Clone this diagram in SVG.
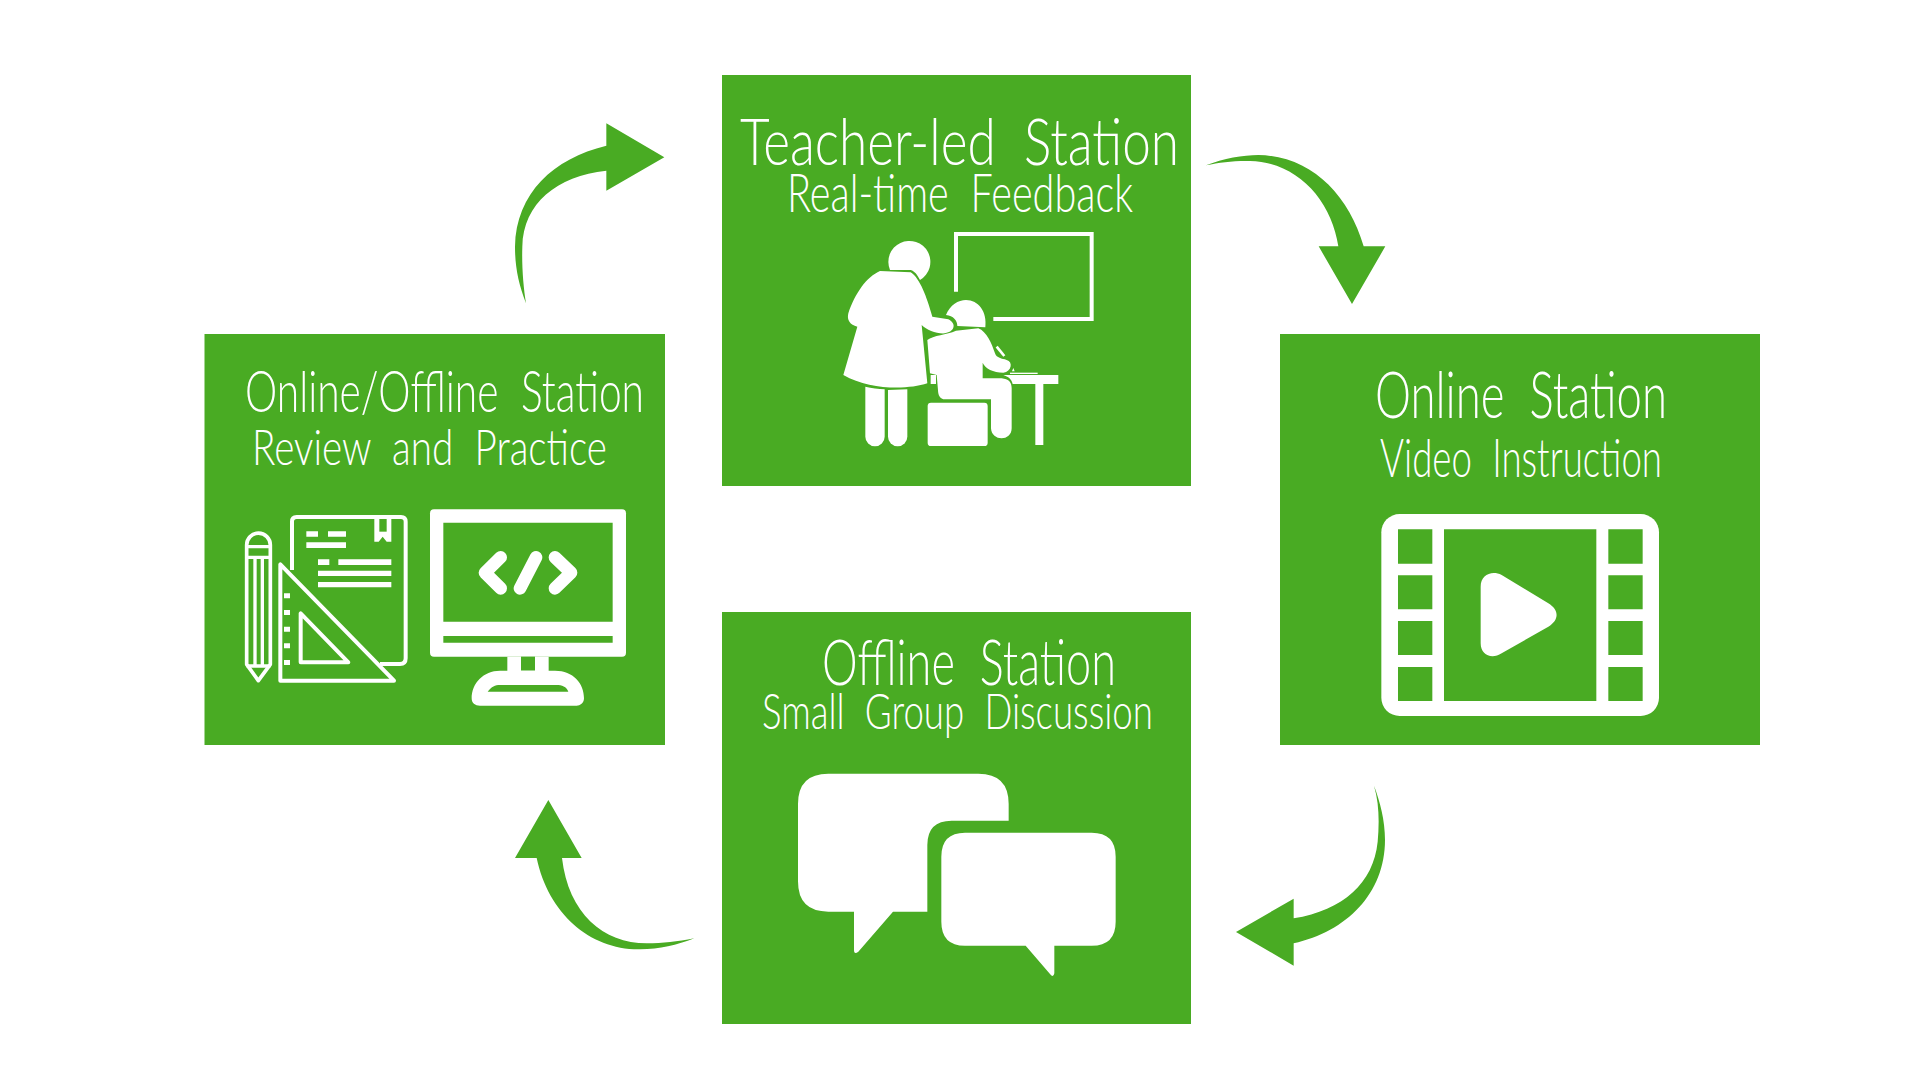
<svg xmlns="http://www.w3.org/2000/svg" width="1920" height="1080" viewBox="0 0 1920 1080">
<style>
.box{fill:#49ab23}
.w{fill:#fff}
.g{fill:#49ab23}
.ol{fill:none;stroke:#fff;stroke-linejoin:round}
.t{font-family:"Lato","Liberation Sans",sans-serif;font-weight:300;fill:#fff;word-spacing:.28em}
.arrow{fill:#49ab23}
</style>
<rect width="1920" height="1080" fill="#fff"/>
<g id="connectors">
<path class="arrow" transform="translate(490 100) scale(.33333)" d="M349,70 L523,172 L349,272 L349,212 C200,228 100,310 97,440 C95,500 100,560 108,610 C85,550 75,500 75,440 C78,280 190,175 349,137Z"/>
<path class="arrow" transform="translate(1200 130) scale(.33333)" d="M356,349 L415,349 C395,210 290,95 150,93 C100,92 60,97 18,106 C70,85 130,75 175,75 C330,78 445,190 491,349 L556,349 L456,522Z"/>
<path class="arrow" transform="translate(1220 770) scale(.33333)" d="M48,486 L221,386 L221,445 C370,420 460,340 473,215 C478,160 478,100 462,47 C480,95 495,150 495,210 C495,370 380,485 221,520 L221,587Z"/>
<path class="arrow" transform="translate(500 790) scale(.33333)" d="M145,30 L245,204 L186,204 C205,370 310,460 440,460 C490,460 530,455 583,445 C530,465 480,478 420,478 C270,480 145,370 110,204 L45,204Z"/>
</g>
<g id="teacher-led-station">
<rect class="box" x="722" y="75" width="469" height="411"/>
<text class="t" x="740" y="165" font-size="66" textLength="439" lengthAdjust="spacingAndGlyphs">Teacher-led Station</text>
<text class="t" x="787" y="212" font-size="54" textLength="346" lengthAdjust="spacingAndGlyphs">Real-time Feedback</text>
<g transform="translate(700 60) scale(.33333)">
<path class="ol" stroke-width="12" style="stroke-linejoin:miter" d="M768,695 L768,522 L1175,522 L1175,777 L880,777"/>
<path class="w" d="M570,630 A63,63 0 1 1 660,660 C652,645 645,634 632,630Z"/>
<path class="w" d="M540,633 L632,637 C660,655 680,710 697,770 L745,778 C770,790 765,815 735,820 C710,822 680,810 665,795 L682,970 C620,990 510,990 430,945 L472,800 C450,795 440,780 445,760 C465,700 500,650 540,633Z"/>
<path class="w" d="M496,980 C515,985 535,987 554,988 L554,1130 A29,29 0 0 1 496,1130Z"/>
<path class="w" d="M564,990 L622,988 L622,1130 A29,29 0 0 1 564,1130Z"/>
<path class="w" d="M738,765 C750,735 775,720 798,720 C835,720 862,755 856,802 L772,798 C772,780 760,768 738,765Z"/>
<path class="w" d="M682,840 C700,825 740,825 768,812 L835,805 C860,815 875,850 885,880 C890,895 905,895 920,900 C940,905 935,935 910,938 C880,938 855,925 848,908 L848,955 L905,955 C925,958 935,965 935,985 L935,1105 C935,1145 875,1145 873,1105 L873,1018 L735,1018 C720,1018 714,1005 714,990 L710,945 L690,940Z"/>
<rect class="w" x="692" y="945" width="16" height="27"/>
<rect class="w" x="683" y="1028" width="180" height="130" rx="10"/>
<path class="w" d="M910,945 L1075,945 L1075,972 L1030,972 L1030,1155 L1006,1155 L1006,972 L938,972 C935,958 925,950 910,945Z"/>
<path class="ol" stroke-width="8" d="M890,860 L913,888"/>
<path class="ol" stroke-width="4" d="M930,940 L1013,940"/>
<path class="w" d="M940,924 L944,934 L936,934Z"/>
</g>
</g>
<g id="online-station">
<rect class="box" x="1280" y="334" width="480" height="411"/>
<text class="t" x="1375" y="418" font-size="65" textLength="292" lengthAdjust="spacingAndGlyphs">Online Station</text>
<text class="t" x="1380" y="477" font-size="54" textLength="282" lengthAdjust="spacingAndGlyphs">Video Instruction</text>
<g transform="translate(1270 320) scale(.33333)">
<rect class="w" x="334" y="582" width="833" height="606" rx="55"/>
<path class="g" d="M384,628h103v103h-103zM384,766h103v102h-103zM384,903h103v102h-103zM384,1041h103v102h-103zM1015,628h103v103h-103zM1015,766h103v102h-103zM1015,903h103v102h-103zM1015,1041h103v102h-103zM522,628h457v515h-457z"/>
<path class="w" d="M632,800 C632,765 665,750 695,765 L835,850 C868,870 868,900 835,920 L695,1000 C665,1020 632,1005 632,970Z"/>
</g>
</g>
<g id="offline-station">
<rect class="box" x="722" y="612" width="469" height="412"/>
<text class="t" x="822" y="685" font-size="63" textLength="294" lengthAdjust="spacingAndGlyphs">Offline Station</text>
<text class="t" x="762" y="729" font-size="50" textLength="391" lengthAdjust="spacingAndGlyphs">Small Group Discussion</text>
<g transform="translate(700 600) scale(.33333)">
<path class="w" d="M385,521 L835,521 Q926,521 926,612 L926,662 L755,662 Q682,662 682,735 L682,935 L579,935 L475,1055 Q462,1065 462,1050 L462,935 L385,935 Q294,935 294,844 L294,612 Q294,521 385,521Z"/>
<path class="w" d="M795,698 L1175,698 Q1247,698 1247,770 L1247,965 Q1247,1037 1175,1037 L1063,1037 L1063,1120 Q1060,1135 1050,1122 L977,1037 L795,1037 Q724,1037 724,965 L724,770 Q724,698 795,698Z"/>
</g>
</g>
<g id="online-offline-station">
<rect class="box" x="204.500" y="334" width="460.500" height="411"/>
<text class="t" x="245" y="412" font-size="58" textLength="399" lengthAdjust="spacingAndGlyphs">Online/Offline Station</text>
<text class="t" x="252" y="465" font-size="49" textLength="355" lengthAdjust="spacingAndGlyphs">Review and Practice</text>
<g transform="translate(190 320) scale(.33333)">
<rect class="w" x="720" y="568" width="588" height="442" rx="12"/>
<path class="g" d="M760,608h508v297h-508zM760,948h508v20h-508z"/>
<path class="w" d="M952,1010h124v50h-124z"/>
<rect class="g" x="993" y="1010" width="42" height="42"/>
<path class="w" fill-rule="evenodd" d="M845,1135 C845,1090 880,1052 930,1052 L1095,1052 C1150,1052 1182,1090 1182,1135 C1182,1150 1170,1157 1160,1157 L870,1157 C855,1157 845,1150 845,1135Z M893,1115 L1135,1115 C1130,1100 1115,1095 1100,1095 L930,1095 C915,1095 905,1100 893,1115Z"/>
<path class="ol" stroke-width="38" stroke-linecap="round" d="M932,712 L885,758 L932,805 M1038,712 L990,805 M1095,712 L1143,758 L1095,805"/>
<path class="ol" stroke-width="12" d="M306,750 L306,605 Q306,591 320,591 L633,591 Q647,591 647,605 L647,1015 Q647,1032 630,1032 L570,1032"/>
<path class="w" d="M553,597h51v68h-14l-12,-15l-12,15h-13z"/>
<rect class="g" x="568" y="597" width="22" height="38"/>
<path class="w" d="M349,634h35v16h-35zM414,634h54v16h-54zM349,667h119v17h-119zM384,718h34v17h-34zM445,718h159v17h-159zM384,752h220v16h-220zM384,786h220v16h-220z"/>
<path class="ol" stroke-width="12" d="M271,733 L271,1082 L612,1082Z"/>
<path class="w" d="M282,820h18v15h-18zM282,870h18v15h-18zM282,920h18v15h-18zM282,970h18v15h-18zM282,1020h18v15h-18z"/>
<path class="ol" stroke-width="12" d="M332,880 L332,1027 L475,1027Z"/>
<path class="ol" stroke-width="11" d="M170,1033 L170,675 A35.500,35.500 0 0 1 241,675 L241,1033 L205,1082Z"/>
<path class="ol" stroke-width="10" d="M170,680 H241 M170,712 H241 M195,715 V1040 M217,715 V1040 M170,1038 H241"/>
</g>
</g>
</svg>
